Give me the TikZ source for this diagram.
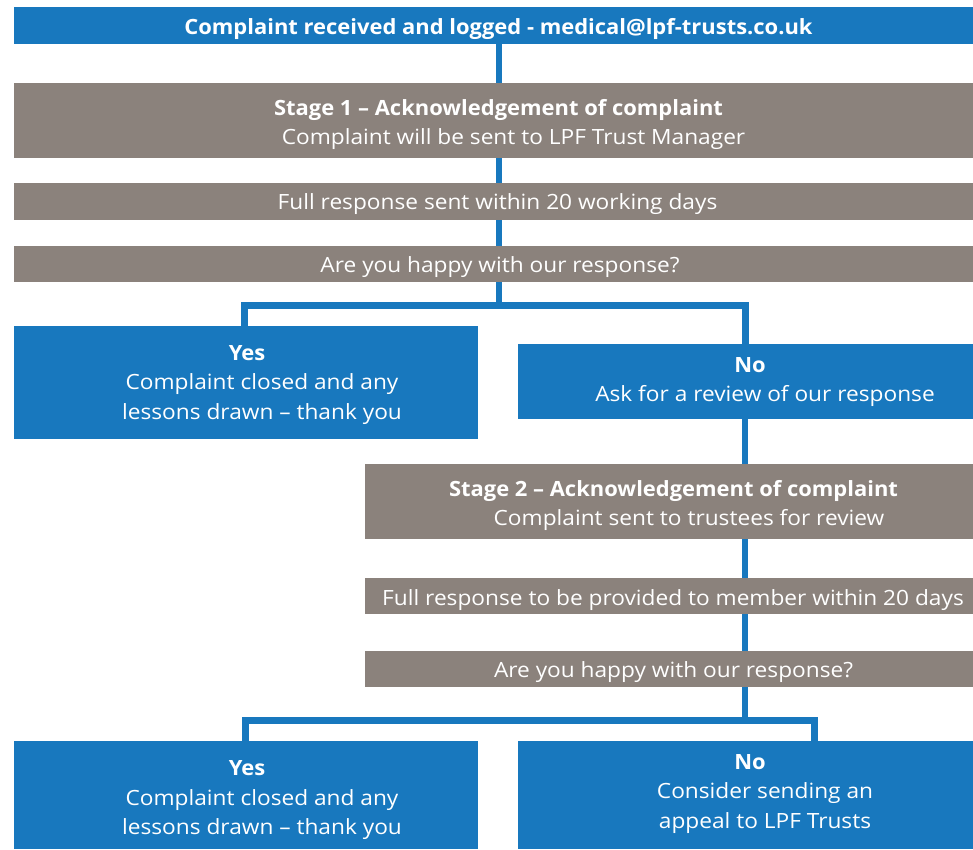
\documentclass[tikz,border=0pt]{standalone}
\usepackage{fontspec}
\setmainfont{Open Sans}[UprightFeatures={FakeStretch=1.08}, BoldFeatures={FakeStretch=1.045}]
\definecolor{lpfblue}{HTML}{1878BE}
\definecolor{lpfgrey}{HTML}{8B827C}
\begin{document}
\begin{tikzpicture}[x=1pt,y=-1pt,
  box/.style={rectangle, inner sep=0pt},
  bluebox/.style={box, fill=lpfblue},
  greybox/.style={box, fill=lpfgrey},
  txt/.style={inner sep=0pt, anchor=base, text=white, font=\fontsize{21}{29.5}\selectfont},
  btxt/.style={txt, font=\fontsize{21}{29.5}\selectfont\bfseries},
  conn/.style={draw=lpfblue, line width=6pt},
  bar/.style={draw=lpfblue, line width=7pt}]
\useasboundingbox (0,0) rectangle (973,849);
\clip (0,0) rectangle (973,849);
\fill[white] (0,0) rectangle (973,849);

% boxes
\node[bluebox, minimum width=970pt, minimum height=37pt] (top) at (499,25.5) {};
\node[greybox, minimum width=970pt, minimum height=75pt] (stage1) at (499,120.5) {};
\node[greybox, minimum width=970pt, minimum height=37pt] (full1) at (499,201.5) {};
\node[greybox, minimum width=970pt, minimum height=36pt] (happy1) at (499,264) {};
\node[bluebox, minimum width=464pt, minimum height=113pt] (yes1) at (246,382.5) {};
\node[bluebox, minimum width=464pt, minimum height=75pt] (no1) at (750,381.5) {};
\node[greybox, minimum width=616pt, minimum height=75pt] (stage2) at (673,501.5) {};
\node[greybox, minimum width=616pt, minimum height=36pt] (full2) at (673,596) {};
\node[greybox, minimum width=616pt, minimum height=36pt] (happy2) at (673,669) {};
\node[bluebox, minimum width=464pt, minimum height=108pt] (yes2) at (246,795) {};
\node[bluebox, minimum width=464pt, minimum height=108pt] (no2) at (750,795) {};

% texts
\node[btxt] (topt) at (498.5,34) {Complaint received and logged - medical@lpf-trusts.co.uk};
\node[btxt] (stage1a) at (498.5,115) {Stage 1 – Acknowledgement of complaint};
\node[txt] (stage1b) at (513.5,144) {Complaint will be sent to LPF Trust Manager};
\node[txt] (full1t) at (497.5,209) {Full response sent within 20 working days};
\node[txt] (happy1t) at (500,272) {Are you happy with our response?};
\node[btxt] (yes1a) at (247,360) {Yes};
\node[txt] (yes1b) at (262,389) {Complaint closed and any};
\node[txt] (yes1c) at (262,419) {lessons drawn – thank you};
\node[btxt] (no1a) at (750,372) {No};
\node[txt] (no1b) at (765,401) {Ask for a review of our response};
\node[btxt] (stage2a) at (673.5,496) {Stage 2 – Acknowledgement of complaint};
\node[txt] (stage2b) at (689,525) {Complaint sent to trustees for review};
\node[txt] (full2t) at (673,605) {Full response to be provided to member within 20 days};
\node[txt] (happy2t) at (673.5,677) {Are you happy with our response?};
\node[btxt] (yes2a) at (247,775) {Yes};
\node[txt] (yes2b) at (262,805) {Complaint closed and any};
\node[txt] (yes2c) at (262,834) {lessons drawn – thank you};
\node[btxt] (no2a) at (750,769) {No};
\node[txt] (no2b) at (765,798) {Consider sending an};
\node[txt] (no2c) at (765,828) {appeal to LPF Trusts};

% connectors
\coordinate (b1) at (499,305.5);
\coordinate (b1l) at (244.5,305.5);
\coordinate (b1r) at (745,305.5);
\coordinate (b2) at (745,720.5);
\coordinate (b2l) at (245,720.5);
\coordinate (b2r) at (814,720.5);

\draw[conn] (top.south) -- (stage1.north);
\draw[conn] (stage1.south) -- (full1.north);
\draw[conn] (full1.south) -- (happy1.north);
\draw[conn] (happy1.south) -- (b1);
\draw[bar] (b1l |- yes1.north) -- (b1l) -- (b1r) -- (b1r |- no1.north);
\draw[conn] (b1r |- no1.south) -- (b1r |- stage2.north);
\draw[conn] (b2 |- stage2.south) -- (b2 |- full2.north);
\draw[conn] (b2 |- full2.south) -- (b2 |- happy2.north);
\draw[conn] (b2 |- happy2.south) -- (b2);
\draw[bar] (b2l |- yes2.north) -- (b2l) -- (b2r) -- (b2r |- no2.north);
\end{tikzpicture}
\end{document}
